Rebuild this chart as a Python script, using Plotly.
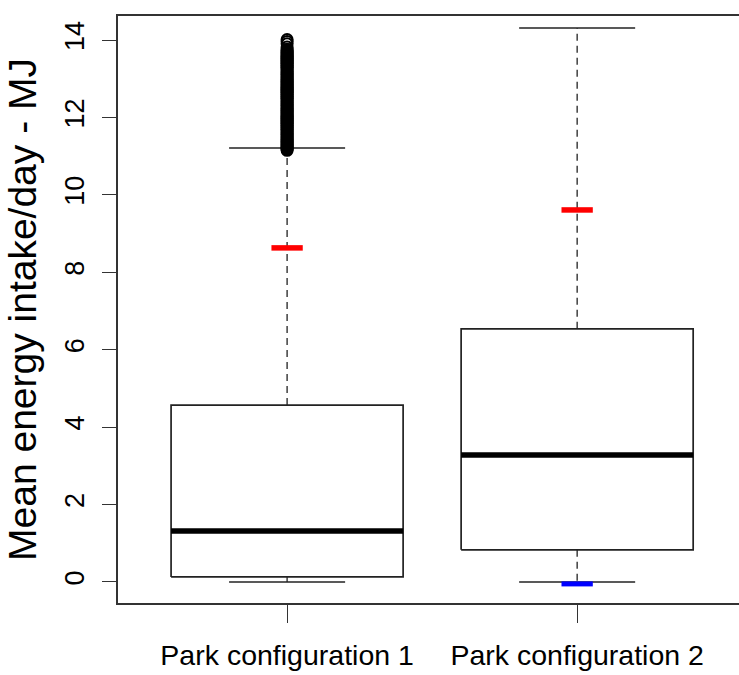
import plotly.graph_objects as go

# Summary statistics per park configuration (MJ/day)
categories = ["Park configuration 1", "Park configuration 2"]
q1 = [0.13, 0.83]
median = [1.32, 3.28]
q3 = [4.57, 6.54]
whisker_low = [0.0, 0.0]
whisker_high = [11.21, 14.31]
mean_marks = [8.63, 9.61]          # red markers
low_marks = [None, -0.05]           # blue marker

# Outlying values above the upper whisker, configuration 1
outliers_1 = [11.15, 11.18, 11.20, 11.23, 11.25, 11.28, 11.30, 11.33, 11.35, 11.38,
              11.40, 11.43, 11.45, 11.48, 11.50, 11.53, 11.55, 11.58, 11.60, 11.63,
              11.65, 11.68, 11.70, 11.73, 11.75, 11.78, 11.80, 11.83, 11.85, 11.88,
              11.90, 11.93, 11.95, 11.98, 12.00, 12.03, 12.05, 12.08, 12.10, 12.13,
              12.15, 12.18, 12.20, 12.23, 12.25, 12.28, 12.30, 12.33, 12.35, 12.38,
              12.40, 12.43, 12.45, 12.48, 12.50, 12.53, 12.55, 12.58, 12.60, 12.63,
              12.65, 12.68, 12.70, 12.73, 12.75, 12.78, 12.80, 12.83, 12.85, 12.88,
              12.90, 12.93, 12.95, 12.98, 13.00, 13.03, 13.05, 13.08, 13.10, 13.13,
              13.15, 13.18, 13.20, 13.23, 13.25, 13.28, 13.30, 13.33, 13.35, 13.38,
              13.40, 13.43, 13.45, 13.48, 13.50, 13.53, 13.55, 13.58, 13.60, 13.63,
              13.65, 13.68, 13.70, 13.73, 13.76, 13.82, 13.90, 13.96, 14.01]

positions = [1, 2]
box_half = 0.4
cap_half = 0.2
mark_half = 0.054
line_col = "#222222"

fig = go.Figure()

for i, c in enumerate(positions):
    # box outline
    fig.add_trace(go.Scatter(
        x=[c - box_half, c + box_half, c + box_half, c - box_half, c - box_half],
        y=[q1[i], q1[i], q3[i], q3[i], q1[i]],
        mode="lines", line=dict(color=line_col, width=1.7),
        hoverinfo="skip", showlegend=False))
    # median
    fig.add_trace(go.Scatter(
        x=[c - box_half, c + box_half], y=[median[i], median[i]],
        mode="lines", line=dict(color="black", width=5.5),
        hoverinfo="skip", showlegend=False))
    # dashed whiskers
    fig.add_trace(go.Scatter(
        x=[c, c, None, c, c],
        y=[q3[i], whisker_high[i], None, q1[i], whisker_low[i]],
        mode="lines", line=dict(color=line_col, width=1.3, dash="7px,5px"),
        hoverinfo="skip", showlegend=False))
    # whisker caps
    fig.add_trace(go.Scatter(
        x=[c - cap_half, c + cap_half, None, c - cap_half, c + cap_half],
        y=[whisker_high[i], whisker_high[i], None, whisker_low[i], whisker_low[i]],
        mode="lines", line=dict(color=line_col, width=1.7),
        hoverinfo="skip", showlegend=False))

# outliers
fig.add_trace(go.Scatter(
    x=[positions[0]] * len(outliers_1), y=outliers_1, mode="markers",
    marker=dict(symbol="circle-open", size=11, color="black", line=dict(width=2)),
    hoverinfo="skip", showlegend=False))

# red and blue marks
for i, c in enumerate(positions):
    fig.add_trace(go.Scatter(
        x=[c - mark_half, c + mark_half], y=[mean_marks[i], mean_marks[i]],
        mode="lines", line=dict(color="#ff0000", width=5.5),
        hoverinfo="skip", showlegend=False))
    if low_marks[i] is not None:
        fig.add_trace(go.Scatter(
            x=[c - mark_half, c + mark_half], y=[low_marks[i], low_marks[i]],
            mode="lines", line=dict(color="#0000ff", width=5),
            hoverinfo="skip", showlegend=False))

fig.update_layout(
    width=739, height=675,
    margin=dict(l=118, r=0, t=16, b=72),
    paper_bgcolor="white", plot_bgcolor="white",
    font=dict(family="Liberation Sans, Arial, sans-serif", color="black"),
    xaxis=dict(
        range=[0.417, 2.558], tickvals=positions, ticktext=categories,
        showgrid=False, zeroline=False, automargin=False,
        showline=True, mirror=True, linecolor="#333333", linewidth=1.7,
        ticks="outside", ticklen=18, tickwidth=1.4, tickcolor="#333333",
        tickangle=0, tickfont=dict(size=28.5), ticklabelstandoff=8,
    ),
    yaxis=dict(
        range=[-0.543, 14.62], tickvals=[0, 2, 4, 6, 8, 10, 12, 14],
        showgrid=False, zeroline=False, automargin=False,
        showline=True, linecolor="#333333", linewidth=1.7,
        ticks="outside", ticklen=14, tickwidth=1.4, tickcolor="#333333",
        tickangle=-90, tickfont=dict(size=27), ticklabelstandoff=7,
        title=dict(text="Mean energy intake/day - MJ", font=dict(size=39), standoff=12),
    ),
)

fig.write_html("out.html")
